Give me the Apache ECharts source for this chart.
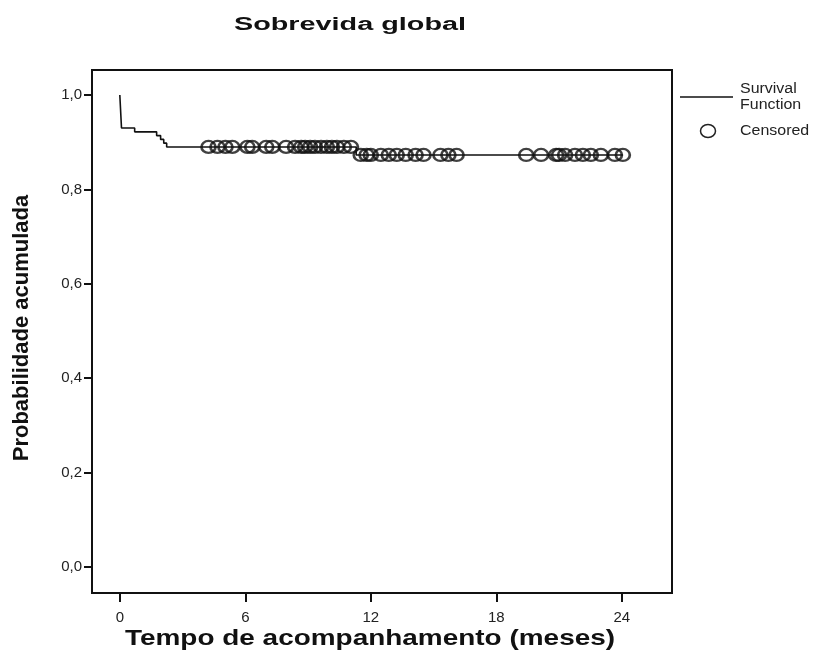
<!DOCTYPE html>
<html>
<head>
<meta charset="utf-8">
<script src="https://cdn.jsdelivr.net/npm/echarts@6/dist/echarts.min.js"></script>
<style>
html,body{margin:0;padding:0;background:#fff;}
#chart{width:829px;height:661px;}
</style>
</head>
<body>
<div id="chart"></div>
<script>
// ---- data ----
const chartTitle = 'Sobrevida global';
const xAxisTitle = 'Tempo de acompanhamento (meses)';
const yAxisTitle = 'Probabilidade acumulada';
const xTicks = [0, 6, 12, 18, 24];
const yTicks = [0, 0.2, 0.4, 0.6, 0.8, 1.0];
// Kaplan-Meier step curve: event times (months) and survival after each
const stepTimes = [0, 0.08, 0.71, 1.76, 1.95, 2.1, 2.24, 11.3, 24.05];
const stepSurv  = [1.0, 0.93, 0.922, 0.914, 0.906, 0.898, 0.89, 0.873, 0.873];
// censored observations
const censoredTimes = [4.24, 4.67, 5.05, 5.38, 6.1, 6.33, 7.0, 7.29, 7.95, 8.38, 8.67, 8.86, 9.1, 9.33, 9.62, 9.9, 10.14, 10.38, 10.71, 11.05,
                       11.52, 11.8, 12.0, 12.48, 12.86, 13.24, 13.67, 14.14, 14.52, 15.33, 15.71, 16.1,
                       19.43, 20.14, 20.86, 21.0, 21.29, 21.76, 22.14, 22.52, 23.0, 23.67, 24.05];
const censoredSurv = [0.89, 0.89, 0.89, 0.89, 0.89, 0.89, 0.89, 0.89, 0.89, 0.89, 0.89, 0.89, 0.89, 0.89, 0.89, 0.89, 0.89, 0.89, 0.89, 0.89,
                      0.873, 0.873, 0.873, 0.873, 0.873, 0.873, 0.873, 0.873, 0.873, 0.873, 0.873, 0.873,
                      0.873, 0.873, 0.873, 0.873, 0.873, 0.873, 0.873, 0.873, 0.873, 0.873, 0.873];
const legendLine = 'Survival\nFunction';
const legendCens = 'Censored';

const stepData = stepTimes.map((t, i) => [t, stepSurv[i]]);
const censData = censoredTimes.map((t, i) => [t, censoredSurv[i]]);

const chart = echarts.init(document.getElementById('chart'), null, {renderer: 'canvas'});
const fontFam = '"Liberation Sans", Arial, sans-serif';
const fmt = v => (Math.round(v * 10) / 10).toFixed(1).replace('.', ',');

chart.setOption({
  animation: false,
  backgroundColor: '#fff',
  grid: {left: 92, right: 157, top: 70, bottom: 68, show: true, borderColor: '#111', borderWidth: 2, backgroundColor: 'transparent'},
  xAxis: {
    type: 'value', min: -1.33, max: 26.4, position: 'bottom',
    axisLine: {show: false, onZero: false},
    splitLine: {show: false},
    axisTick: {show: true, inside: false, length: 9, customValues: xTicks, lineStyle: {color: '#111', width: 2}},
    axisLabel: {customValues: xTicks, margin: 17, fontSize: 15, color: '#222', fontFamily: fontFam},
  },
  yAxis: {
    type: 'value', min: -0.055, max: 1.053, position: 'left',
    axisLine: {show: false, onZero: false},
    splitLine: {show: false},
    axisTick: {show: true, inside: false, length: 8, customValues: yTicks, lineStyle: {color: '#111', width: 2}},
    axisLabel: {customValues: yTicks, margin: 10, fontSize: 15, color: '#222', fontFamily: fontFam, formatter: fmt},
  },
  series: [
    {
      type: 'line', step: 'end', data: stepData, showSymbol: false, symbol: 'none',
      lineStyle: {color: '#111', width: 1.6}, z: 2
    },
    {
      type: 'scatter', data: censData, symbol: 'circle', symbolSize: [14, 12],
      itemStyle: {color: 'rgba(0,0,0,0)', borderColor: '#111', borderWidth: 2.5}, z: 3
    }
  ],
  graphic: [
    {type: 'text', x: 350, y: 25, scaleX: 1.6, style: {text: chartTitle, font: 'bold 18px ' + fontFam, fill: '#111', align: 'center', verticalAlign: 'middle'}},
    {type: 'text', x: 370, y: 639, scaleX: 1.27, style: {text: xAxisTitle, font: 'bold 22px ' + fontFam, fill: '#111', align: 'center', verticalAlign: 'middle'}},
    {type: 'text', x: 22, y: 328, rotation: Math.PI / 2, style: {text: yAxisTitle, font: 'bold 22px ' + fontFam, fill: '#111', align: 'center', verticalAlign: 'middle'}},
    {type: 'line', shape: {x1: 680, y1: 97, x2: 733, y2: 97}, style: {stroke: '#111', lineWidth: 1.5}},
    {type: 'text', x: 740, y: 97, scaleX: 1.14, style: {text: legendLine, font: '14px ' + fontFam, fill: '#222', align: 'left', verticalAlign: 'middle', lineHeight: 16}},
    {type: 'ellipse', shape: {cx: 708, cy: 131, rx: 7.5, ry: 6.5}, style: {fill: 'none', stroke: '#222', lineWidth: 1.5}},
    {type: 'text', x: 740, y: 131, scaleX: 1.14, style: {text: legendCens, font: '14px ' + fontFam, fill: '#222', align: 'left', verticalAlign: 'middle'}}
  ]
});
</script>
</body>
</html>
